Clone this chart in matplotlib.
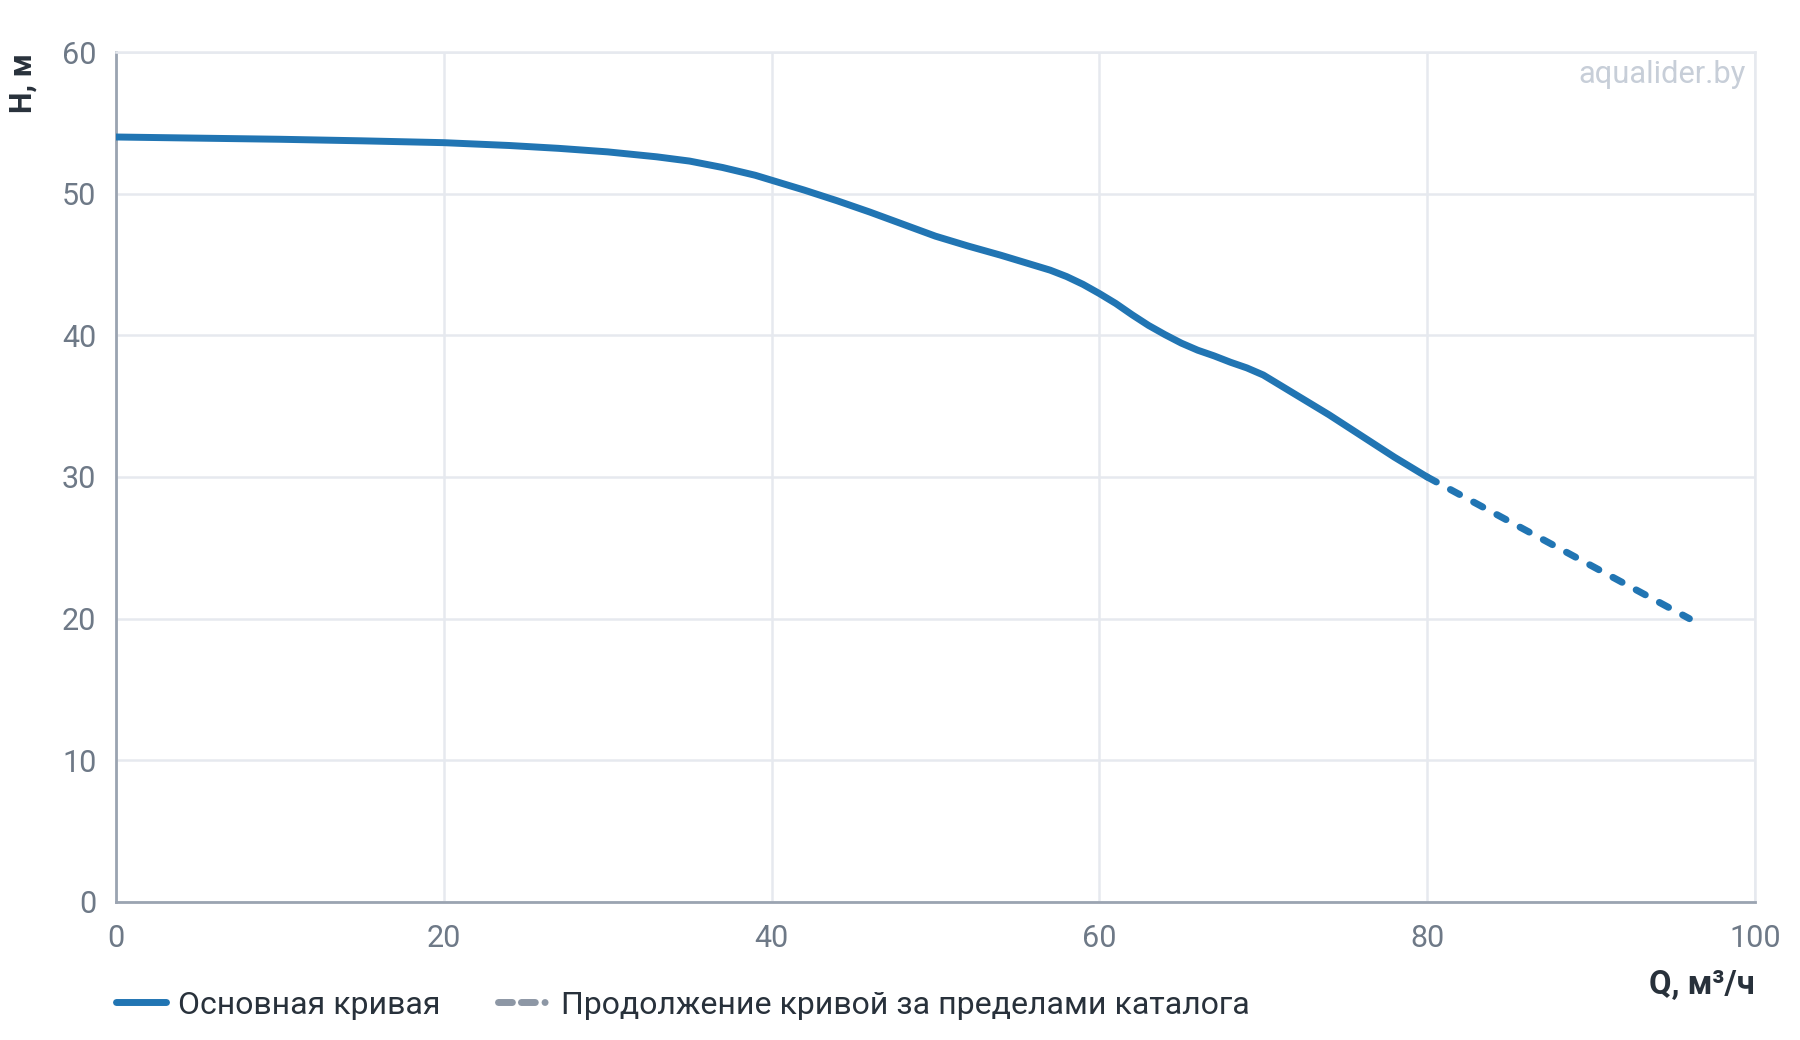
import numpy as np
import matplotlib.pyplot as plt
from matplotlib.lines import Line2D

plt.rcParams['font.family'] = ['Roboto', 'DejaVu Sans']

# Основная кривая (Q, м3/ч -> H, м)
q_main = [0, 5, 10, 15, 20, 24, 27, 30, 33, 35, 37, 39, 40, 42, 44, 46, 48, 50, 52, 54, 55, 56,
          57, 58, 59, 60, 61, 62, 63, 64, 65, 66, 67, 68, 69, 70, 72, 74, 76, 78, 80]
h_main = [54.0, 53.92, 53.84, 53.73, 53.6, 53.4, 53.2, 52.95, 52.6, 52.3, 51.85, 51.3, 50.95,
          50.25, 49.5, 48.7, 47.85, 47.0, 46.3, 45.65, 45.3, 44.95, 44.6, 44.15, 43.6, 42.95,
          42.25, 41.45, 40.7, 40.05, 39.45, 38.95, 38.55, 38.1, 37.7, 37.2, 35.8, 34.4, 32.9,
          31.4, 30.0]

# Продолжение за пределами каталога
q_ext = [80, 88, 96]
h_ext = [30.0, 25.0, 20.0]

x_ticks = [0, 20, 40, 60, 80, 100]
y_ticks = [0, 10, 20, 30, 40, 50, 60]

blauw = "#2175b3"
grijs_tekst = "#6e7987"
donker = "#28313b"
raster = "#e6e9ef"

fig = plt.figure(figsize=(18, 10.4), dpi=100)
ax = fig.add_axes([0.0644, 0.1327, 0.975 - 0.0644, 0.95 - 0.1327])

ax.plot(q_main, h_main, color=blauw, lw=5, solid_capstyle="round", solid_joinstyle="round", zorder=3)
ax.plot(q_ext, h_ext, color=blauw, lw=5, linestyle=(0, (1.5, 2.3)), dash_capstyle="round", zorder=3)

ax.set_xlim(0, 100)
ax.set_ylim(0, 60)
ax.set_xticks(x_ticks)
ax.set_yticks(y_ticks)
ax.tick_params(length=0, labelsize=22, labelcolor=grijs_tekst)
ax.tick_params(axis="y", pad=14)
ax.tick_params(axis="x", pad=16)
ax.grid(True, color=raster, lw=1.8)
ax.set_axisbelow(True)

for kant in ["top", "right"]:
    ax.spines[kant].set_color(raster)
    ax.spines[kant].set_linewidth(1.8)
for kant in ["left", "bottom"]:
    ax.spines[kant].set_color("#9ba4b1")
    ax.spines[kant].set_linewidth(2)

# aslabels
fig.text(23 / 1800, 1 - 53 / 1040, "H, м", rotation=90, ha="center", va="top",
         fontsize=22, fontweight="bold", color=donker)
fig.text(1755 / 1800, 1 - 985 / 1040, "Q, м³/ч", ha="right", va="center",
         fontsize=23.5, fontweight="bold", color=donker)

# watermerk
ax.text(0.9944, 0.973, "aqualider.by", transform=ax.transAxes, ha="right", va="center",
        fontsize=22.2, color="#c7ced8")

# legenda
handles = [
    Line2D([0], [0], color=blauw, lw=5, solid_capstyle="round"),
    Line2D([0], [0], color="#8d97a5", lw=5, linestyle=(0, (2.0, 1.3, 2.0, 1.4, 0.01, 10)),
           dash_capstyle="round"),
]
labels = ["Основная кривая", "Продолжение кривой за пределами каталога"]
fig.legend(handles, labels, loc="center left", bbox_to_anchor=(116 / 1800, 1 - 1005 / 1040),
           ncol=2, frameon=False, fontsize=23, handlelength=1.55, handletextpad=0.4,
           columnspacing=1.8, labelcolor=donker, borderaxespad=0, borderpad=0)

fig.savefig("out.png", dpi=100)
